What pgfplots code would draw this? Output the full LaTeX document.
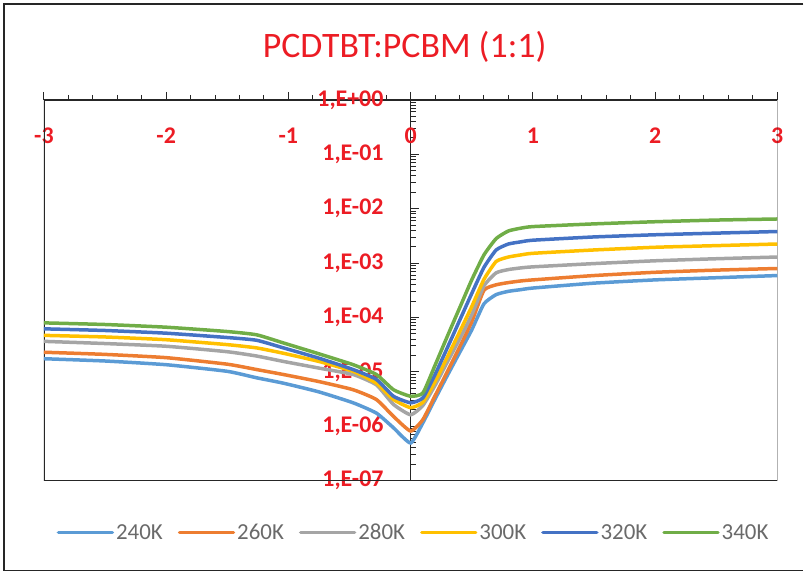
\documentclass[border=0pt]{standalone}
\usepackage{pgfplots}
\pgfplotsset{compat=1.18}
\usepackage{fontspec}
\setmainfont{Carlito}
\definecolor{cA}{HTML}{5B9BD5}
\definecolor{cB}{HTML}{ED7D31}
\definecolor{cC}{HTML}{A5A5A5}
\definecolor{cD}{HTML}{FFC000}
\definecolor{cE}{HTML}{4472C4}
\definecolor{cF}{HTML}{70AD47}
\definecolor{tred}{HTML}{EC1C24}
\definecolor{lgray}{HTML}{6A6A6A}
\begin{document}
\begin{tikzpicture}
\path (-44bp,-94bp) rectangle (760bp,481bp);
\draw[black!85, line width=1.5bp] (760bp,477bp) -- (-40bp,477bp) -- (-40bp,-90bp) -- (760bp,-90bp);
\node[text=tred, font=\fontsize{36}{40}\selectfont] at (361bp,434bp) {PCDTBT:PCBM (1:1)};
\begin{axis}[
  at={(0,0)}, anchor=south west,
  scale only axis, width=734bp, height=381bp,
  xmin=-3, xmax=3, ymin=1e-7, ymax=1,
  ymode=log,
  axis x line=top, axis y line=center,
  hide obscured y ticks=false, hide obscured x ticks=false,
  axis line style={-, line width=1.5bp, black!85},
  every inner y axis line/.append style={-},
  every outer x axis line/.append style={-},
  xtick={-3,-2,-1,0,1,2,3},
  xticklabels={-3,-2,-1,0,1,2,3},
  minor x tick num=4,
  xticklabel style={anchor=center, yshift=-40bp, font=\fontsize{24}{26}\selectfont\bfseries, text=tred},
  ytick={1e-7,1e-6,1e-5,1e-4,1e-3,1e-2,1e-1,1},
  yticklabels={{1,E-07},{1,E-06},{1,E-05},{1,E-04},{1,E-03},{1,E-02},{1,E-01},{1,E+00}},
  yticklabel style={anchor=east, inner sep=0pt, xshift=-23bp, font=\fontsize{24}{26}\selectfont\bfseries, text=tred},
  tick align=center,
  major tick length=8bp, minor tick length=5bp,
  tick style={black!85, line width=1bp},
  major x tick style={yshift=4bp},
  minor x tick style={yshift=2.5bp},
  major y tick style={xshift=4bp},
  minor y tick style={xshift=2.5bp},
  legend columns=6,
  legend style={at={(0.504,-0.136)}, anchor=center, draw=none, fill=none,
    font=\fontsize{23}{24}\selectfont, text=lgray,
    /tikz/every even column/.append style={column sep=13bp}},
  legend image code/.code={\draw[#1, line width=3.5bp, line cap=round] (0bp,0bp) -- (54bp,0bp);},
  every axis plot/.append style={line width=3.5bp, smooth, tension=0.3},
]
\draw[black!85, line width=1.5bp] (rel axis cs:0,1) -- (rel axis cs:0,0) -- (rel axis cs:1,0) -- (rel axis cs:1,1);
\addplot[cA] coordinates {(-3,1.74e-5)(-2.5,1.58e-5)(-2,1.35e-5)(-1.5,1.02e-5)(-1.26,7.76e-6)(-1.04,6.17e-6)(-0.75,4.27e-6)(-0.47,2.69e-6)(-0.28,1.74e-6)(-0.14,9.33e-7)(0,4.90e-7)(0.1,1.15e-6)(0.2,3.16e-6)(0.3,8.51e-6)(0.4,2.24e-5)(0.5,5.89e-5)(0.6,1.78e-4)(0.7,2.63e-4)(0.8,3.02e-4)(0.9,3.24e-4)(1.0,3.47e-4)(1.5,4.27e-4)(2.0,4.90e-4)(2.5,5.37e-4)(3.0,5.89e-4)};
\addlegendentry{240K}
\addplot[cB] coordinates {(-3,2.29e-5)(-2.5,2.09e-5)(-2,1.82e-5)(-1.5,1.38e-5)(-1.26,1.10e-5)(-1.04,8.91e-6)(-0.75,6.61e-6)(-0.47,4.68e-6)(-0.28,3.09e-6)(-0.14,1.51e-6)(0,8.13e-7)(0.1,1.32e-6)(0.2,3.63e-6)(0.3,1.00e-5)(0.4,2.82e-5)(0.5,8.32e-5)(0.6,3.16e-4)(0.7,3.98e-4)(0.8,4.37e-4)(0.9,4.68e-4)(1.0,4.90e-4)(1.5,5.89e-4)(2.0,6.76e-4)(2.5,7.41e-4)(3.0,7.94e-4)};
\addlegendentry{260K}
\addplot[cC] coordinates {(-3,3.63e-5)(-2.5,3.31e-5)(-2,2.95e-5)(-1.5,2.34e-5)(-1.26,1.95e-5)(-1.04,1.55e-5)(-0.75,1.17e-5)(-0.47,8.91e-6)(-0.28,5.75e-6)(-0.14,2.51e-6)(0,1.62e-6)(0.1,2.40e-6)(0.2,5.62e-6)(0.3,1.51e-5)(0.4,3.98e-5)(0.5,1.12e-4)(0.6,3.80e-4)(0.7,6.61e-4)(0.8,7.59e-4)(0.9,8.13e-4)(1.0,8.51e-4)(1.5,9.77e-4)(2.0,1.10e-3)(2.5,1.20e-3)(3.0,1.29e-3)};
\addlegendentry{280K}
\addplot[cD] coordinates {(-3,4.68e-5)(-2.5,4.37e-5)(-2,3.89e-5)(-1.5,3.16e-5)(-1.26,2.75e-5)(-1.04,2.19e-5)(-0.75,1.55e-5)(-0.47,1.02e-5)(-0.28,6.17e-6)(-0.14,3.09e-6)(0,2.19e-6)(0.1,2.75e-6)(0.2,6.61e-6)(0.3,1.86e-5)(0.4,5.37e-5)(0.5,1.58e-4)(0.6,5.01e-4)(0.7,1.07e-3)(0.8,1.29e-3)(0.9,1.41e-3)(1.0,1.51e-3)(1.5,1.74e-3)(2.0,1.95e-3)(2.5,2.09e-3)(3.0,2.24e-3)};
\addlegendentry{300K}
\addplot[cE] coordinates {(-3,6.17e-5)(-2.5,5.75e-5)(-2,5.13e-5)(-1.5,4.27e-5)(-1.26,3.80e-5)(-1.04,2.75e-5)(-0.75,1.78e-5)(-0.47,1.10e-5)(-0.28,7.24e-6)(-0.14,3.55e-6)(0,2.69e-6)(0.1,3.31e-6)(0.2,8.91e-6)(0.3,2.75e-5)(0.4,8.71e-5)(0.5,2.75e-4)(0.6,8.32e-4)(0.7,1.74e-3)(0.8,2.24e-3)(0.9,2.45e-3)(1.0,2.63e-3)(1.5,3.02e-3)(2.0,3.31e-3)(2.5,3.55e-3)(3.0,3.80e-3)};
\addlegendentry{320K}
\addplot[cF] coordinates {(-3,7.94e-5)(-2.5,7.41e-5)(-2,6.61e-5)(-1.5,5.50e-5)(-1.26,4.79e-5)(-1.04,3.39e-5)(-0.75,2.14e-5)(-0.47,1.35e-5)(-0.28,8.91e-6)(-0.14,4.68e-6)(0,3.55e-6)(0.1,4.07e-6)(0.2,1.32e-5)(0.3,4.47e-5)(0.4,1.48e-4)(0.5,4.90e-4)(0.6,1.41e-3)(0.7,2.82e-3)(0.8,3.89e-3)(0.9,4.37e-3)(1.0,4.68e-3)(1.5,5.25e-3)(2.0,5.75e-3)(2.5,6.17e-3)(3.0,6.46e-3)};
\addlegendentry{340K}
\end{axis}
\end{tikzpicture}
\end{document}
